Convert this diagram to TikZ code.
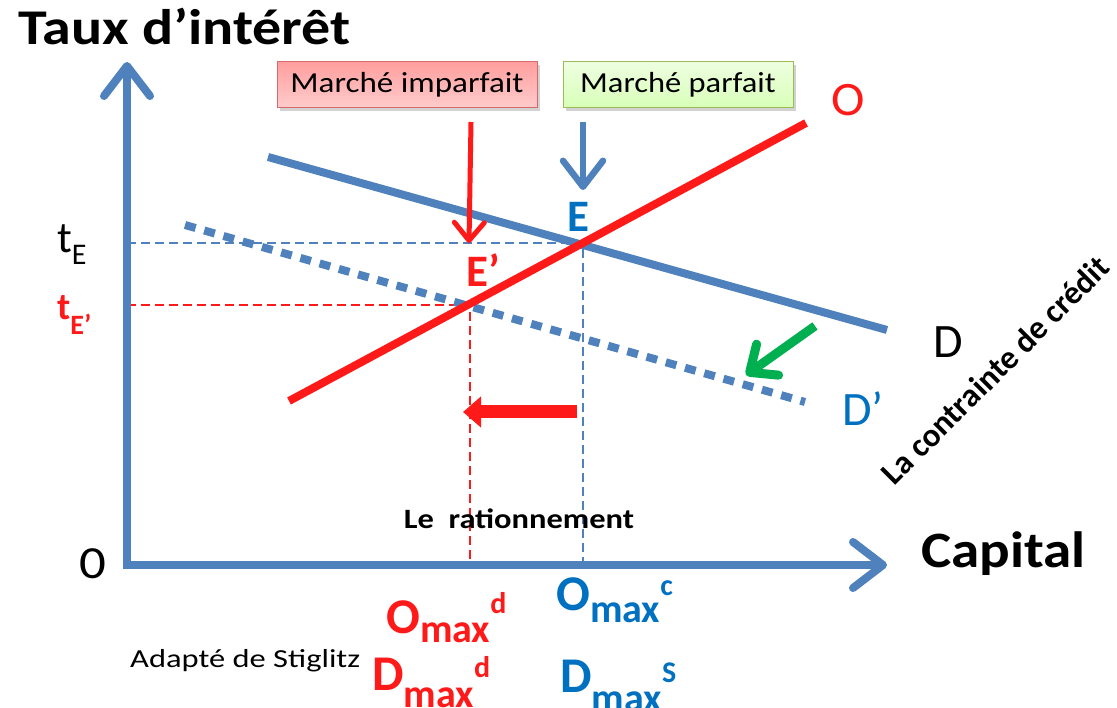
\documentclass[tikz,border=0pt]{standalone}
\usepackage{graphicx}
\usepackage{fontspec}
\setmainfont{Carlito}
\usetikzlibrary{arrows.meta,shadows}
\definecolor{axblue}{HTML}{4F81BD}
\definecolor{txtblue}{HTML}{0070C0}
\definecolor{myred}{HTML}{FF1A1A}
\definecolor{mygreen}{HTML}{00B050}
\definecolor{redborder}{HTML}{D46A6A}
\definecolor{greenborder}{HTML}{9BBB59}
\newcommand{\fs}[1]{\fontsize{#1}{#1}\selectfont}
\newcommand{\hx}[2]{\scalebox{#1}[1]{#2}}
\tikzset{
  axisline/.style={draw=axblue, line width=8pt, line join=miter,
    {Straight Barb[length=30pt,width=46pt,round]}-{Straight Barb[length=30pt,width=46pt,round]}},
  curveD/.style={draw=axblue, line width=8pt},
  curveDp/.style={draw=axblue, line width=8pt, dash pattern=on 11pt off 9pt},
  curveO/.style={draw=myred, line width=8pt},
  guideblue/.style={draw=axblue, line width=1.2pt, dash pattern=on 9pt off 5pt},
  guidered/.style={draw=myred, line width=1.2pt, dash pattern=on 9pt off 5pt},
  lab/.style={inner sep=0pt, anchor=base west},
  marketbox/.style={minimum width=#1, minimum height=46pt, inner sep=0pt, font=\fs{29}, drop shadow={shadow xshift=3pt, shadow yshift=-3pt, fill=black!35}},
}
\begin{document}
\begin{tikzpicture}[x=1pt,y=-1pt]
\useasboundingbox (0,0) rectangle (1117,708);

% key points
\coordinate (orig) at (127,565);
\coordinate (ytop) at (127,62);
\coordinate (xend) at (887,565);
\coordinate (D1) at (268,157);
\coordinate (D2) at (887,330);
\coordinate (Dp1) at (185,225);
\coordinate (Dp2) at (805,402);
\coordinate (O1) at (289,401);
\coordinate (O2) at (806,123);
\coordinate (E) at (583,243);
\coordinate (Ep) at (470,305);
\coordinate (tEax) at (127,243);
\coordinate (tEpax) at (127,305);
\coordinate (Ex) at (583,565);
\coordinate (Epx) at (470,565);

% title
\node[lab, font=\fs{50}\bfseries] (title) at (18,45) {\hx{1.16}{Taux d’intérêt}};

% guide lines
\draw[guideblue] (tEax) -- (E) -- (Ex);
\draw[guidered] (tEpax) -- (Ep) -- (Epx);

% axes
\draw[axisline] (ytop) -- (orig) -- (xend);

% curves
\draw[curveD] (D1) -- (D2);
\draw[curveDp] (Dp1) -- (Dp2);
\draw[curveO] (O1) -- (O2);

% boxes
\node[marketbox=260pt, draw=redborder, line width=1pt, top color=red!38, bottom color=red!20] (imp) at (407,85) {\hx{1.14}{Marché imparfait}};
\node[marketbox=230pt, draw=greenborder, line width=1pt, top color=green!55!yellow!12, bottom color=green!55!yellow!28] (parf) at (678,85) {\hx{1.12}{Marché parfait}};

% pointers
\coordinate (rTop) at (471,122);
\coordinate (rTip) at (469,243);
\coordinate (bTop) at (583,122);
\coordinate (bTip) at (583,190);
\draw[draw=myred, line width=5pt, -{Straight Barb[length=18pt,width=30pt,round]}] (rTop) -- (rTip);
\draw[draw=axblue, line width=6.5pt, -{Straight Barb[length=26pt,width=40pt,round]}] (bTop) -- (bTip);

% big red arrow
\coordinate (rrStart) at (577,412);
\coordinate (rrTip) at (463,412);
\draw[draw=myred, line width=13pt, -{Triangle[length=18pt,width=30pt]}] (rrStart) -- (rrTip);

% green arrow
\coordinate (gStart) at (815,326);
\coordinate (gTip) at (746,375);
\draw[draw=mygreen, line width=9pt, -{Straight Barb[length=22pt,width=38pt,round]}] (gStart) -- (gTip);

% labels
\node[anchor=base, inner sep=0pt, font=\fs{46}] (zero) at (93,578) {\hx{1.15}{0}};
\node[lab, font=\fs{51}\bfseries] (capital) at (921,567) {\hx{1.12}{Capital}};
\node[lab, font=\fs{44}] (tE) at (57,253) {t\raisebox{-12pt}{\fs{30}E}};
\node[lab, font=\fs{38}\bfseries, text=myred] (tEp) at (57,320) {t\raisebox{-15pt}{\fs{28}E’}};
\node[anchor=base, inner sep=0pt, font=\fs{48}, text=myred] (Olab) at (848,116) {\hx{1.05}{O}};
\node[anchor=base, inner sep=0pt, font=\fs{48}] (Dlab) at (948,358) {D};
\node[lab, font=\fs{48}, text=txtblue] (Dplab) at (842,426) {D’};
\node[anchor=base, inner sep=0pt, font=\fs{45}\bfseries, text=txtblue] (Elab) at (578,232) {E};
\node[anchor=base, inner sep=0pt, font=\fs{45}\bfseries, text=myred] (Eplab) at (483,287) {E’};
\node[anchor=base, inner sep=0pt, font=\fs{28}\bfseries] (ration) at (519,529) {\hx{1.16}{Le\ \ rationnement}};
\node[lab, font=\fs{26}] (src) at (130,667) {\hx{1.25}{Adapté de Stiglitz}};
\node[anchor=center, inner sep=0pt, font=\fs{33}\bfseries, rotate=45] (contr) at (995,370) {La contrainte de crédit};

\node[lab, font=\fs{50}\bfseries, text=myred] (Omd) at (386,633) {O\raisebox{-9pt}{\fs{40}max}\raisebox{20pt}{\fs{30}d}};
\node[lab, font=\fs{50}\bfseries, text=myred] (Dmd) at (372,690) {D\raisebox{-17pt}{\fs{40}max}\raisebox{13pt}{\fs{30}d}};
\node[lab, font=\fs{50}\bfseries, text=txtblue] (Omc) at (556,610) {O\raisebox{-12pt}{\fs{40}max}\raisebox{15pt}{\fs{30}c}};
\node[lab, font=\fs{50}\bfseries, text=txtblue] (DmS) at (560,692) {D\raisebox{-19pt}{\fs{40}max}\raisebox{10pt}{\fs{30}S}};
\end{tikzpicture}
\end{document}
